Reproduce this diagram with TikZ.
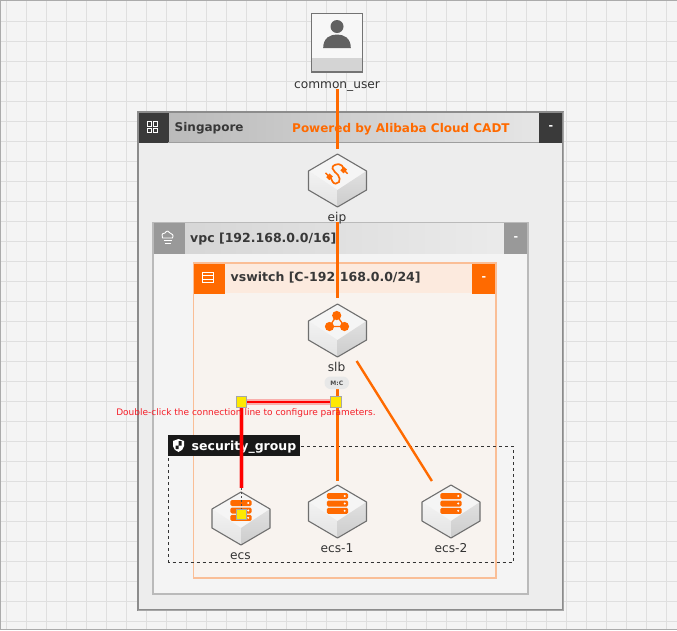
\documentclass[tikz,border=0pt]{standalone}
\usepackage{fontspec}
\usetikzlibrary{calc}
\setmainfont{DejaVu Sans}
\definecolor{acorange}{HTML}{FF6A00}
\definecolor{gridc}{HTML}{DFDFDF}
\definecolor{canvasc}{HTML}{F4F4F4}
\definecolor{darkhead}{HTML}{3A3A3A}
\definecolor{iconedge}{HTML}{6F6F6F}
\definecolor{vswbody}{HTML}{F8F3EF}
\definecolor{vswhead}{HTML}{FCEADE}
\definecolor{vswedge}{HTML}{FABE96}
\definecolor{hintred}{HTML}{F51E28}
\tikzset{
  lbl/.style={inner sep=0pt,anchor=base,font=\fontsize{12.2}{14}\selectfont,text=black!80},
  headtxt/.style={inner sep=0pt,anchor=base west,font=\bfseries\fontsize{12.5}{14}\selectfont,text=black!78},
  minus/.style={inner sep=0pt,font=\bfseries\fontsize{11}{13}\selectfont,text=white},
  conn/.style={draw=acorange,line width=2.4pt},
  handlebox/.style={draw=black!35,fill=yellow!92!orange,line width=.8pt},
  isobox/.pic={
    \fill[white!96!black] (-29,-9.5)--(0,-26.5)--(29,-9.5)--(0,9.5)--cycle;
    \shade[top color=white!95!black,bottom color=white!89!black] (-29,-9.5)--(0,9.5)--(0,26.5)--(-29,9.5)--cycle;
    \shade[top color=white!88!black,bottom color=white!80!black] (29,-9.5)--(0,9.5)--(0,26.5)--(29,9.5)--cycle;
    \draw[iconedge,line width=1.1pt,line join=round] (-29,-9.5)--(0,-26.5)--(29,-9.5)--(29,9.5)--(0,26.5)--(-29,9.5)--cycle;
  },
  serverbars/.pic={
    \foreach \yy in {-15.5,-8,-0.7}{
      \fill[acorange,rounded corners=1.5pt] (-10.7,\yy-3)rectangle(10.7,\yy+3);
      \fill[white] (7.2,\yy) circle (1.1);
    }
  }
}
\begin{document}
\begin{tikzpicture}[x=1pt,y=-1pt]
\useasboundingbox (0,0) rectangle (677,630);
% canvas
\fill[canvasc] (0,0) rectangle (677,630);
\foreach \gx in {6.5,26.5,...,667}{\draw[gridc,line width=1.3pt] (\gx,0)--(\gx,630);}
\foreach \gy in {21.5,41.5,...,625}{\draw[gridc,line width=1.3pt] (0,\gy)--(677,\gy);}
\draw[black!33,line width=1.6pt] (0,0.5)--(677,0.5);
\draw[black!33,line width=1.6pt] (0.5,0)--(0.5,630);
\draw[black!33,line width=1.4pt] (0,629.5)--(677,629.5);
% Singapore
\fill[white!93!black] (138,112) rectangle (563,610);
\shade[left color=black!27,right color=black!10] (168,112.5) rectangle (539,142);
\fill[darkhead] (138,112) rectangle (168.5,142.5);
\fill[darkhead] (539,112) rectangle (563,142.5);
\draw[black!38,line width=.9pt] (168,142.5)--(539,142.5);
\draw[black!45,line width=1.2pt] (138,112) rectangle (563,610);
\draw[black!35,line width=1pt] (563.3,112)--(563.3,610.3)--(138,610.3);
\draw[white,line width=.9pt] (147,121.5) rectangle (151.5,126) (153,121.5) rectangle (157.5,126) (147,128) rectangle (151.5,132.5) (153,128) rectangle (157.5,132.5);
\node[headtxt,font=\bfseries\fontsize{12}{14}\selectfont] (regionname) at (174.5,131.7) {Singapore};
\node[minus] (regionminus) at (551,128) {-};
\node[inner sep=0pt,anchor=base west,font=\bfseries\fontsize{12}{14}\selectfont,text=acorange] (powered) at (292,132) {Powered by Alibaba Cloud CADT};
% vpc
\fill[white!95.5!black] (153,222.5) rectangle (528,594);
\shade[left color=black!16,right color=black!8] (184,223) rectangle (504,253);
\fill[black!40] (153,223) rectangle (184.5,253.5);
\fill[black!40] (504,223) rectangle (528,253.5);
\draw[black!27,line width=1.2pt] (153,222.5) rectangle (528,594);
\draw[white,line width=.9pt,line join=round] (162.5,238) .. controls (161,232.5) and (164,233.5) .. (165,233) .. controls (166.5,230) and (169.5,231) .. (170,233) .. controls (172,233.5) and (174,235) .. (172.5,238) -- cycle;
\draw[white,line width=.8pt] (163.5,240.5)--(171.5,240.5) (164.5,243)--(170.5,243);
\node[headtxt] (vpcname) at (190,242) {vpc [192.168.0.0/16]};
\node[minus] (vpcminus) at (516,238.5) {-};
% vswitch
\fill[vswbody] (193.5,263) rectangle (496,578);
\fill[vswhead] (225,263) rectangle (472,293);
\fill[acorange] (193.5,263) rectangle (225,293.5);
\fill[acorange] (472,263) rectangle (496,293.5);
\draw[vswedge,line width=1.2pt] (193.5,263) rectangle (496,578);
\draw[white,line width=.8pt] (202.5,272) rectangle (213.5,275.5) (202.5,275.5) rectangle (213.5,279) (202.5,279) rectangle (213.5,282.5);
\node[headtxt] (vswname) at (230.5,281.7) {vswitch [C-192.168.0.0/24]};
\node[minus] (vswminus) at (484,278.5) {-};
% security group
\draw[black!80,line width=.9pt,dash pattern=on 3pt off 3pt] (168.5,446) rectangle (513,562);
\fill[black!90] (168,435) rectangle (300,455.5);
\fill[white] (173,441) -- (178.5,439) -- (184,441) -- (184,446) .. controls (184,449) and (181,451) .. (178.5,452) .. controls (176,451) and (173,449) .. (173,446) -- cycle;
\fill[black!90] (178.5,441) rectangle (181.5,445.5) (175.5,445.5) rectangle (178.5,449);
\node[inner sep=0pt,anchor=base west,font=\bfseries\fontsize{12.5}{14}\selectfont,text=white] (sgname) at (191.5,450) {security\_group};
% anchors
\coordinate (user) at (337.5,43);
\coordinate (eip) at (337.5,180.5);
\coordinate (slb) at (337.5,330.5);
\coordinate (ecs) at (241,518.5);
\coordinate (ecsa) at (337.5,511.5);
\coordinate (ecsb) at (451,511.5);
\coordinate (handlea) at (241.5,402);
\coordinate (handleb) at (336,402);
\coordinate (handlec) at (241.5,514.5);
% user
\fill[white!97!black] (311.5,13.5) rectangle (362.5,72);
\fill[black!17] (311.5,57.5) rectangle (362.5,72);
\draw[black!55,line width=1.1pt] (311.5,13.5) rectangle (362.5,72);
\fill[black!62] (337,26.5) circle (6.5);
\fill[black!62] (323.2,48) .. controls (323.2,38) and (330,34.5) .. (337,34.5) .. controls (344,34.5) and (350.8,38) .. (350.8,48) -- cycle;
\node[lbl] (userlabel) at (337,88) {common\_user};
% connectors (orange)
\draw[conn,shorten <=46pt,shorten >=31.5pt] (user)--(eip);
\draw[conn,shorten <=41.5pt,shorten >=32.5pt] (eip)--(slb);
\draw[conn,shorten <=58.5pt,shorten >=30.5pt] (slb)--(ecsa);
\draw[conn,shorten <=36pt,shorten >=36pt] (slb)--(ecsb);
% icons
\pic at (eip) {isobox};
\begin{scope}[shift={(eip)}]
\draw[acorange,line width=1.7pt,line cap=round] (6,-11) .. controls (5.5,-14.5) and (3.5,-16.3) .. (1.5,-16.3) .. controls (-2,-16.3) and (-5.5,-15) .. (-5,-12) .. controls (-4.5,-9) and (-1,-8) .. (0.5,-5.5) .. controls (2,-3) and (3,-0.5) .. (1.5,1.5) .. controls (0,3.5) and (-3.5,4) .. (-5,1) -- (-6.5,-2);
\draw[acorange,line width=5pt] (4.6,-12) -- (7.8,-9);
\draw[acorange,line width=1.4pt] (7,-9.8) -- (10.2,-6.8);
\draw[acorange,line width=5pt] (-9.6,-5.2) -- (-6.4,-2.2);
\draw[acorange,line width=1.4pt] (-9,-4.6) -- (-12,-7.6);
\end{scope}
\pic at (slb) {isobox};
\begin{scope}[shift={(slb)}]
\draw[acorange,line width=1.3pt] (-0.8,-15)--(-8,-4)--(7,-4)--cycle;
\fill[acorange] (-0.8,-15) circle (4.6) (-8,-4) circle (4.6) (7,-4) circle (4.6);
\end{scope}
\pic at (ecs) {isobox};
\pic at (ecs) {serverbars};
\pic at (ecsa) {isobox};
\pic at (ecsa) {serverbars};
\pic at (ecsb) {isobox};
\pic at (ecsb) {serverbars};
% labels
\node[lbl] (eiplabel) at (337,221.7) {eip};
\node[lbl] (slblabel) at (336.5,371.7) {slb};
\node[lbl] (ecslabel) at (240.5,559) {ecs};
\node[lbl] (ecsalabel) at (337,552) {ecs-1};
\node[lbl] (ecsblabel) at (451,552) {ecs-2};
\fill[black!9,rounded corners=6pt] (324.5,376.5) rectangle (349,389);
\node[inner sep=0pt,font=\bfseries\fontsize{6}{7}\selectfont,text=black!70] (mclabel) at (336.8,383) {M:C};
% selected connector
\draw[red,opacity=.28,line width=5.5pt,line join=round] (handleb)--(handlea)--(241.5,488);
\draw[red,line width=2.8pt,line join=round] (handleb)--(handlea)--(241.5,488);
\draw[black!70,line width=.6pt,dash pattern=on 2pt off 2pt] (241.5,488)--(handlec);
\filldraw[handlebox] ($(handlea)+(-5.2,-5.2)$) rectangle ($(handlea)+(5.2,5.2)$);
\filldraw[handlebox] ($(handleb)+(-5.2,-5.2)$) rectangle ($(handleb)+(5.2,5.2)$);
\filldraw[handlebox] ($(handlec)+(-5.2,-5.2)$) rectangle ($(handlec)+(5.2,5.2)$);
\node[inner sep=0pt,anchor=base,font=\fontsize{9}{11}\selectfont,text=hintred] (hint) at (246,415) {Double-click the connection line to configure parameters.};
\end{tikzpicture}
\end{document}
